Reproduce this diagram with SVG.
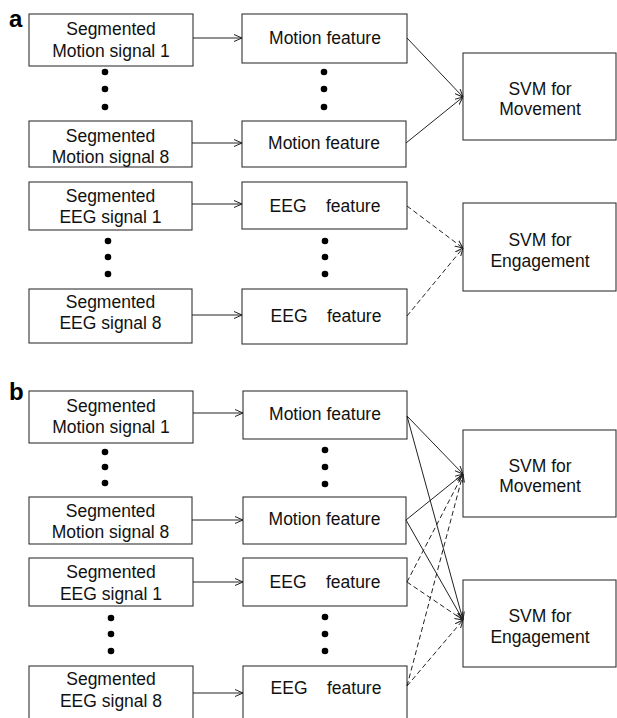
<svg xmlns="http://www.w3.org/2000/svg" width="617" height="718" viewBox="0 0 617 718">
<style>
.box{fill:#fff;stroke:#333;stroke-width:1.1}
.t{font-family:"Liberation Sans",Arial,sans-serif;font-size:17.5px;fill:#111;text-anchor:middle}
.lbl{font-family:"Liberation Sans",Arial,sans-serif;font-size:24px;font-weight:bold;fill:#000}
.c{stroke:#222;stroke-width:1;fill:none}
.d{stroke:#222;stroke-width:1;fill:none;stroke-dasharray:5,3}
.dot{fill:#000}
</style>
<defs>
<marker id="ah" viewBox="0 0 8 8" markerWidth="8" markerHeight="8" markerUnits="userSpaceOnUse" refX="8" refY="4" orient="auto">
<path d="M0,0.5 L8,4 L0,7.5" fill="none" stroke="#222" stroke-width="1"/>
</marker>
</defs>
<rect width="617" height="718" fill="#fff"/>

<text class="lbl" x="9" y="27">a</text>
<text class="lbl" x="9" y="400">b</text>

<!-- Panel a nodes -->
<g id="a_ms1"><rect class="box" x="29" y="14" width="164" height="52"/><text class="t" x="111" y="35">Segmented</text><text class="t" x="111" y="57">Motion signal 1</text></g>
<g id="a_ms8"><rect class="box" x="29" y="121" width="163" height="46"/><text class="t" x="110.5" y="141.5">Segmented</text><text class="t" x="110.5" y="163">Motion signal 8</text></g>
<g id="a_mf1"><rect class="box" x="242" y="14" width="165" height="49"/><text class="t" x="325" y="44">Motion feature</text></g>
<g id="a_mf8"><rect class="box" x="242" y="121" width="164" height="46"/><text class="t" x="324" y="149">Motion feature</text></g>
<g id="a_svmm"><rect class="box" x="463" y="53" width="153" height="87"/><text class="t" x="540" y="95">SVM for</text><text class="t" x="540" y="115">Movement</text></g>
<g id="a_es1"><rect class="box" x="29" y="182" width="163" height="48"/><text class="t" x="110.5" y="201.5">Segmented</text><text class="t" x="110.5" y="223">EEG signal 1</text></g>
<g id="a_es8"><rect class="box" x="29" y="289" width="163" height="54"/><text class="t" x="110.5" y="308">Segmented</text><text class="t" x="110.5" y="329">EEG signal 8</text></g>
<g id="a_ef1"><rect class="box" x="242" y="182" width="165" height="47"/><text class="t" x="325" y="211.5" xml:space="preserve">EEG    feature</text></g>
<g id="a_ef8"><rect class="box" x="242" y="289" width="165" height="55"/><text class="t" x="326" y="322" xml:space="preserve">EEG    feature</text></g>
<g id="a_svme"><rect class="box" x="463" y="203" width="153" height="88"/><text class="t" x="540" y="246">SVM for</text><text class="t" x="540" y="266.5">Engagement</text></g>

<!-- Panel b nodes -->
<g id="b_ms1"><rect class="box" x="29" y="391" width="164" height="52"/><text class="t" x="111" y="411.5">Segmented</text><text class="t" x="111" y="433">Motion signal 1</text></g>
<g id="b_ms8"><rect class="box" x="29" y="497" width="163" height="47"/><text class="t" x="110.5" y="516.5">Segmented</text><text class="t" x="110.5" y="538">Motion signal 8</text></g>
<g id="b_mf1"><rect class="box" x="243" y="391" width="164" height="48"/><text class="t" x="325" y="420">Motion feature</text></g>
<g id="b_mf8"><rect class="box" x="243" y="497" width="163" height="47"/><text class="t" x="324.5" y="525">Motion feature</text></g>
<g id="b_es1"><rect class="box" x="29" y="558" width="164" height="48"/><text class="t" x="111" y="578">Segmented</text><text class="t" x="111" y="600">EEG signal 1</text></g>
<g id="b_es8"><rect class="box" x="29" y="666" width="164" height="60"/><text class="t" x="111" y="685">Segmented</text><text class="t" x="111" y="707">EEG signal 8</text></g>
<g id="b_ef1"><rect class="box" x="243" y="558" width="164" height="48"/><text class="t" x="325" y="588" xml:space="preserve">EEG    feature</text></g>
<g id="b_ef8"><rect class="box" x="243" y="666" width="164" height="60"/><text class="t" x="326" y="694" xml:space="preserve">EEG    feature</text></g>
<g id="b_svmm"><rect class="box" x="463" y="430" width="153" height="87"/><text class="t" x="540" y="471.5">SVM for</text><text class="t" x="540" y="492">Movement</text></g>
<g id="b_svme"><rect class="box" x="463" y="580" width="153" height="87"/><text class="t" x="540" y="621.5">SVM for</text><text class="t" x="540" y="643">Engagement</text></g>

<!-- ellipsis dots -->
<g id="dots">
<circle class="dot" cx="105" cy="72" r="3.3"/><circle class="dot" cx="105" cy="89" r="3.3"/><circle class="dot" cx="105" cy="107" r="3.3"/>
<circle class="dot" cx="324" cy="72" r="3.3"/><circle class="dot" cx="324" cy="89" r="3.3"/><circle class="dot" cx="324" cy="107" r="3.3"/>
<circle class="dot" cx="108" cy="241" r="3.3"/><circle class="dot" cx="108" cy="257" r="3.3"/><circle class="dot" cx="108" cy="274" r="3.3"/>
<circle class="dot" cx="325" cy="241" r="3.3"/><circle class="dot" cx="325" cy="257" r="3.3"/><circle class="dot" cx="325" cy="274" r="3.3"/>
<circle class="dot" cx="105" cy="452" r="3.3"/><circle class="dot" cx="105" cy="467" r="3.3"/><circle class="dot" cx="105" cy="483" r="3.3"/>
<circle class="dot" cx="325" cy="450" r="3.3"/><circle class="dot" cx="325" cy="467" r="3.3"/><circle class="dot" cx="325" cy="484" r="3.3"/>
<circle class="dot" cx="111" cy="618" r="3.3"/><circle class="dot" cx="111" cy="634" r="3.3"/><circle class="dot" cx="111" cy="651" r="3.3"/>
<circle class="dot" cx="325" cy="617" r="3.3"/><circle class="dot" cx="325" cy="634" r="3.3"/><circle class="dot" cx="325" cy="651" r="3.3"/>
</g>

<!-- connectors -->
<g id="connectors">
<line class="c" x1="193" y1="38" x2="242" y2="38" marker-end="url(#ah)"/>
<line class="c" x1="192" y1="143" x2="242" y2="143" marker-end="url(#ah)"/>
<line class="c" x1="407" y1="38" x2="463" y2="97" marker-end="url(#ah)"/>
<line class="c" x1="406" y1="143" x2="463" y2="97" marker-end="url(#ah)"/>
<line class="c" x1="192" y1="204" x2="242" y2="204" marker-end="url(#ah)"/>
<line class="c" x1="192" y1="315" x2="242" y2="315" marker-end="url(#ah)"/>
<line class="d" x1="407" y1="206" x2="463" y2="248" marker-end="url(#ah)"/>
<line class="d" x1="407" y1="316" x2="463" y2="248" marker-end="url(#ah)"/>

<line class="c" x1="193" y1="413" x2="243" y2="413" marker-end="url(#ah)"/>
<line class="c" x1="192" y1="520" x2="243" y2="520" marker-end="url(#ah)"/>
<line class="c" x1="193" y1="582" x2="243" y2="582" marker-end="url(#ah)"/>
<line class="c" x1="193" y1="693" x2="243" y2="693" marker-end="url(#ah)"/>
<line class="c" x1="407" y1="416" x2="463" y2="474" marker-end="url(#ah)"/>
<line class="c" x1="407" y1="416" x2="463" y2="620" marker-end="url(#ah)"/>
<line class="c" x1="406" y1="520" x2="463" y2="474" marker-end="url(#ah)"/>
<line class="c" x1="406" y1="520" x2="463" y2="620" marker-end="url(#ah)"/>
<line class="d" x1="407" y1="582" x2="463" y2="474" marker-end="url(#ah)"/>
<line class="d" x1="407" y1="582" x2="463" y2="620" marker-end="url(#ah)"/>
<line class="d" x1="407" y1="686" x2="463" y2="474" marker-end="url(#ah)"/>
<line class="d" x1="407" y1="686" x2="463" y2="620" marker-end="url(#ah)"/>
</g>
</svg>
